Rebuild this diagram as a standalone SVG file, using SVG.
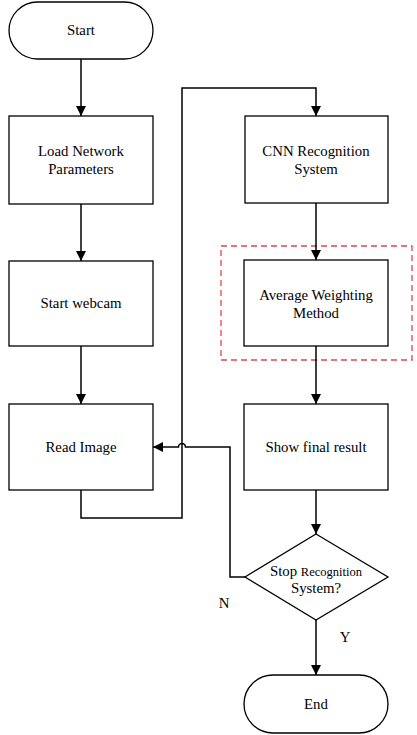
<svg xmlns="http://www.w3.org/2000/svg" width="417" height="735" viewBox="0 0 417 735">
<style>
.n{fill:#fff;stroke:#000;stroke-width:1.3}
.t{font-family:'Liberation Serif','DejaVu Serif',serif;font-size:14.8px;fill:#000;text-anchor:middle}
.c{fill:none;stroke:#000;stroke-width:1.5}
</style>
<defs>
<marker id="a" viewBox="0 0 10 10" refX="10" refY="5" markerWidth="10" markerHeight="10" markerUnits="userSpaceOnUse" orient="auto">
<path d="M0,0 L10,5 L0,10 z" fill="#000"/>
</marker>
</defs>
<rect width="417" height="735" fill="#fff"/>
<g id="highlight"><rect x="221" y="246" width="191" height="114" fill="none" stroke="#e0454f" stroke-width="1.3" stroke-dasharray="6,4"/></g>
<g id="connectors">
<path class="c" d="M81,59 V116" marker-end="url(#a)"/>
<path class="c" d="M81,204 V261" marker-end="url(#a)"/>
<path class="c" d="M81,346 V404" marker-end="url(#a)"/>
<path class="c" d="M81,490 V518 H182 V88 H316 V116" marker-end="url(#a)"/>
<path class="c" d="M316,203 V260" marker-end="url(#a)"/>
<path class="c" d="M316,346 V404" marker-end="url(#a)"/>
<path class="c" d="M316,490 V534" marker-end="url(#a)"/>
<path class="c" d="M245,577 H230 V447 H185.5 A3.5,3.5 0 0 0 178.5,447 H153" marker-end="url(#a)"/>
<path class="c" d="M316,620 V675" marker-end="url(#a)"/>
</g>
<g id="start"><rect class="n" x="9" y="2" width="144" height="57" rx="28.5"/><text class="t" x="81" y="35" font-family="Liberation Serif, serif">Start</text></g>
<g id="load"><rect class="n" x="9" y="116" width="144" height="88"/><text class="t" x="81" y="156" font-family="Liberation Serif, serif">Load Network</text><text class="t" x="81" y="174" font-family="Liberation Serif, serif">Parameters</text></g>
<g id="webcam"><rect class="n" x="9" y="261" width="144" height="85"/><text class="t" x="81" y="308" font-family="Liberation Serif, serif">Start webcam</text></g>
<g id="read"><rect class="n" x="9" y="404" width="144" height="86"/><text class="t" x="81" y="452" font-family="Liberation Serif, serif">Read Image</text></g>
<g id="cnn"><rect class="n" x="245" y="116" width="143" height="87"/><text class="t" x="316" y="156" font-family="Liberation Serif, serif">CNN Recognition</text><text class="t" x="316" y="174" font-family="Liberation Serif, serif">System</text></g>
<g id="avg"><rect class="n" x="244" y="260" width="144" height="86"/><text class="t" x="316" y="300" font-family="Liberation Serif, serif">Average Weighting</text><text class="t" x="316" y="318" font-family="Liberation Serif, serif">Method</text></g>
<g id="show"><rect class="n" x="244" y="404" width="144" height="86"/><text class="t" x="316" y="452" font-family="Liberation Serif, serif">Show final result</text></g>
<g id="stop"><polygon class="n" points="316,534 388,577 316,620 245,577"/><text class="t" x="316" y="576" font-family="Liberation Serif, serif"><tspan>Stop </tspan><tspan font-size="12.5">Recognition</tspan></text><text class="t" x="316" y="593" font-family="Liberation Serif, serif" font-size="13.5">System?</text></g>
<g id="end"><rect class="n" x="244" y="675" width="144" height="58" rx="29"/><text class="t" x="316" y="709" font-family="Liberation Serif, serif">End</text></g>
<g id="labels"><text class="t" x="224" y="608" font-family="Liberation Serif, serif">N</text><text class="t" x="345" y="642" font-family="Liberation Serif, serif">Y</text></g>
</svg>
